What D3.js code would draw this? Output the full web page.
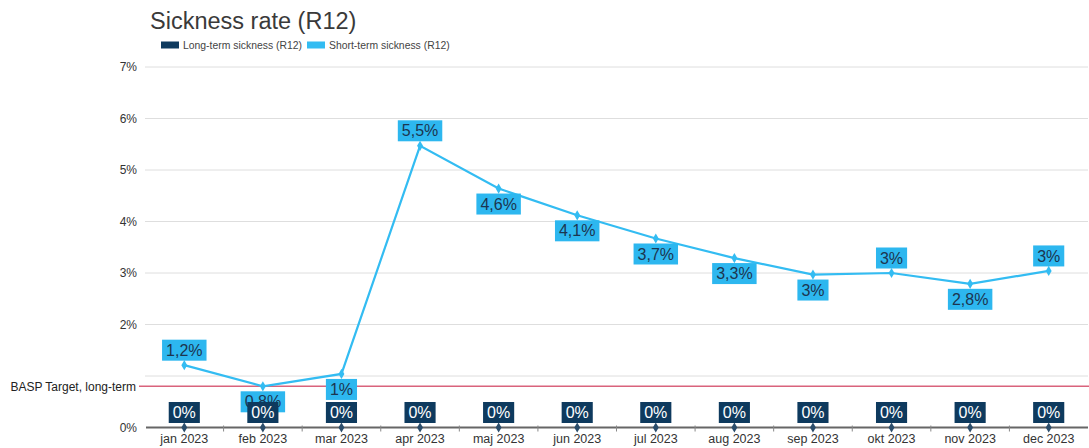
<!DOCTYPE html>
<html>
<head>
<meta charset="utf-8">
<script src="https://cdn.jsdelivr.net/npm/d3@7"></script>
<style>
  html, body { margin: 0; padding: 0; background: #fff; }
  svg { display: block; font-family: "Liberation Sans", Arial, sans-serif; }
</style>
</head>
<body>
<svg id="chart" width="1089" height="448"></svg>
<script>
// Monthly rolling-12 sickness rates (%)
const months = ["jan 2023", "feb 2023", "mar 2023", "apr 2023", "maj 2023", "jun 2023",
                "jul 2023", "aug 2023", "sep 2023", "okt 2023", "nov 2023", "dec 2023"];
const shortTerm = [1.21, 0.8, 1.04, 5.47, 4.64, 4.12, 3.67, 3.29, 2.97, 3.0, 2.79, 3.04];
const longTerm  = [0, 0, 0, 0, 0, 0, 0, 0, 0, 0, 0, 0];
const yTicks = [0, 1, 2, 3, 4, 5, 6, 7];
const yTickLabels = [0, 2, 3, 4, 5, 6, 7]; // 1% is covered by the target label
const targetLongTerm = 0.8;
const seriesNames = ["Long-term sickness (R12)", "Short-term sickness (R12)"];

const colShort = "#33bcf2";
const colShortBox = "#2db7ef";
const colLong = "#0e3a5e";

const svg = d3.select("#chart");

const x = d3.scaleBand().domain(months).range([145, 1088]).padding(0);
const y = d3.scaleLinear().domain([0, 7]).range([427.5, 67]);
const cx = m => x(m) + x.bandwidth() / 2;

// label format: one decimal, trailing zero dropped, decimal comma
const fmt = v => d3.format(".1~f")(v).replace(".", ",") + "%";

// Title
svg.append("text")
  .attr("x", 150).attr("y", 28.5)
  .attr("font-size", 23.5).attr("fill", "#3a3a3a")
  .text("Sickness rate (R12)");

// Legend
const legend = svg.append("g");
const legendItems = [
  { name: seriesNames[0], color: colLong, x: 161 },
  { name: seriesNames[1], color: colShort, x: 307 }
];
legendItems.forEach(d => {
  legend.append("rect").attr("x", d.x).attr("y", 41.5).attr("width", 18).attr("height", 7).attr("fill", d.color);
  legend.append("text").attr("x", d.x + 22).attr("y", 49)
    .attr("font-size", 10.4).attr("fill", "#444").text(d.name);
});

// Gridlines + y tick labels
const yAxis = d3.axisLeft(y).tickValues(yTickLabels).tickSize(0).tickPadding(0)
  .tickFormat(d => d + "%");
const yg = svg.append("g").attr("transform", "translate(137,0)").call(yAxis);
yg.select(".domain").remove();
yg.selectAll("text").attr("font-size", 12).attr("fill", "#333").attr("font-family", "Liberation Sans, Arial, sans-serif");

svg.append("g").selectAll("line")
  .data(yTicks.filter(d => d > 0))
  .join("line")
  .attr("x1", 145).attr("x2", 1088)
  .attr("y1", d => y(d)).attr("y2", d => y(d))
  .attr("stroke", "#dedede").attr("stroke-width", 1);

// Target line
svg.append("line")
  .attr("x1", 139).attr("x2", 1089)
  .attr("y1", y(targetLongTerm)).attr("y2", y(targetLongTerm))
  .attr("stroke", "#d9637c").attr("stroke-width", 1.5);
svg.append("text")
  .attr("x", 136).attr("y", y(targetLongTerm) + 4.5)
  .attr("text-anchor", "end").attr("font-size", 12).attr("fill", "#222")
  .text("BASP Target, long-term");

// Long-term bars (zero height at these values)
svg.append("g").selectAll("rect")
  .data(longTerm)
  .join("rect")
  .attr("x", (d, i) => x(months[i]) + x.bandwidth() * 0.3)
  .attr("width", x.bandwidth() * 0.4)
  .attr("y", d => y(d))
  .attr("height", d => y(0) - y(d))
  .attr("fill", colLong);

// X axis
const xAxis = d3.axisBottom(x).tickSize(0).tickPadding(7);
const xg = svg.append("g").attr("transform", `translate(0,${y(0)})`).call(xAxis);
xg.select(".domain").attr("stroke", "#666").attr("stroke-width", 2)
  .attr("d", `M146,0H1088`);
xg.selectAll("text").attr("font-size", 12.5).attr("fill", "#333").attr("font-family", "Liberation Sans, Arial, sans-serif");
svg.append("g").selectAll("line")
  .data(months.slice(1))
  .join("line")
  .attr("x1", d => x(d)).attr("x2", d => x(d))
  .attr("y1", y(0) - 2).attr("y2", y(0) + 4)
  .attr("stroke", "#888").attr("stroke-width", 1);

// Short-term line
const line = d3.line().x((d, i) => cx(months[i])).y(d => y(d));
svg.append("path")
  .datum(shortTerm)
  .attr("d", line)
  .attr("fill", "none")
  .attr("stroke", colShort)
  .attr("stroke-width", 2.2);

const diamond = d3.symbol().type(d3.symbolDiamond).size(30);
svg.append("g").selectAll("path")
  .data(shortTerm)
  .join("path")
  .attr("transform", (d, i) => `translate(${cx(months[i])},${y(d)})`)
  .attr("d", diamond)
  .attr("fill", colShort);

svg.append("g").selectAll("path")
  .data(longTerm)
  .join("path")
  .attr("transform", (d, i) => `translate(${cx(months[i])},${y(d)})`)
  .attr("d", diamond)
  .attr("fill", "#2b4d6b");

// Data labels: boxed, placed above local peaks, below otherwise
function drawLabels(values, boxColor, textColor, placeAbove) {
  const g = svg.append("g");
  values.forEach((v, i) => {
    const px = cx(months[i]);
    const py = y(v);
    const above = placeAbove(v, i);
    const h = 21;
    const top = above ? py - 4.5 - h : py + 5;
    const lg = g.append("g");
    const rect = lg.append("rect").attr("fill", boxColor);
    const t = lg.append("text")
      .attr("x", px).attr("y", top + h / 2 + 5.6)
      .attr("text-anchor", "middle")
      .attr("font-size", 16).attr("fill", textColor)
      .text(fmt(v));
    const w = t.node().getComputedTextLength() + 8;
    rect.attr("x", px - w / 2).attr("y", top).attr("width", w).attr("height", h);
  });
}

drawLabels(shortTerm, colShortBox, "#1c3550", (v, i) => {
  const prev = i > 0 ? shortTerm[i - 1] : -Infinity;
  const next = i < shortTerm.length - 1 ? shortTerm[i + 1] : -Infinity;
  return v > prev && v > next;
});
drawLabels(longTerm, colLong, "#ffffff", () => true);
</script>
</body>
</html>
